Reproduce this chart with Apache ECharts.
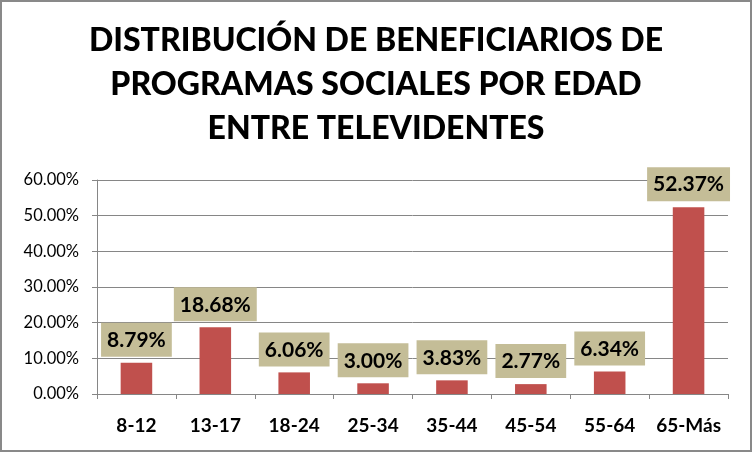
<!DOCTYPE html>
<html>
<head>
<meta charset="utf-8">
<script src="https://cdn.jsdelivr.net/npm/echarts@6/dist/echarts.min.js"></script>
<style>
  html, body { margin: 0; padding: 0; background: #fff; }
  #chart { width: 752px; height: 452px; box-sizing: border-box; border: 2px solid #898989; }
</style>
</head>
<body>
<div id="chart"></div>
<script>
// datos
const titleLines = ['DISTRIBUCIÓN DE BENEFICIARIOS DE', 'PROGRAMAS SOCIALES POR EDAD', 'ENTRE TELEVIDENTES'];
const ageGroups = ['8-12', '13-17', '18-24', '25-34', '35-44', '45-54', '55-64', '65-Más'];
const shares = [8.79, 18.68, 6.06, 3.00, 3.83, 2.77, 6.34, 52.37];

const chart = echarts.init(document.getElementById('chart'));
const option = {
    animation: false,
    title: {
        text: titleLines.join('\n'),
        left: 'center',
        top: 12,
        textStyle: { fontFamily: 'Lato', fontWeight: 900, fontSize: 32, lineHeight: 44, color: '#000' }
    },
    grid: { left: 95, right: 22, top: 178, bottom: 56 },
    xAxis: {
        type: 'category',
        data: ageGroups,
        axisLine: { lineStyle: { color: '#868686' } },
        axisTick: { show: true, length: 5, lineStyle: { color: '#868686' } },
        axisLabel: { interval: 0, margin: 22, color: '#000', fontFamily: 'Lato', fontWeight: 'bold', fontSize: 19 }
    },
    yAxis: {
        type: 'value',
        min: 0,
        max: 60,
        interval: 10,
        axisLine: { show: true, lineStyle: { color: '#868686' } },
        axisTick: { show: true, length: 5, lineStyle: { color: '#868686' } },
        splitLine: { lineStyle: { color: '#868686' } },
        axisLabel: {
            margin: 18,
            color: '#000',
            fontFamily: 'Lato',
            fontSize: 16.5,
            formatter: v => v.toFixed(2) + '%'
        }
    },
    series: [{
        type: 'bar',
        data: shares,
        barWidth: '40%',
        itemStyle: { color: '#C0504D' },
        label: {
            show: true,
            position: 'top',
            distance: 6,
            formatter: p => p.value.toFixed(2) + '%',
            backgroundColor: '#C4BD97',
            padding: [7, 6, 6, 6],
            color: '#000',
            fontFamily: 'Lato',
            fontWeight: 'bold',
            fontSize: 21
        }
    }]
};
chart.setOption(option);
</script>
</body>
</html>
